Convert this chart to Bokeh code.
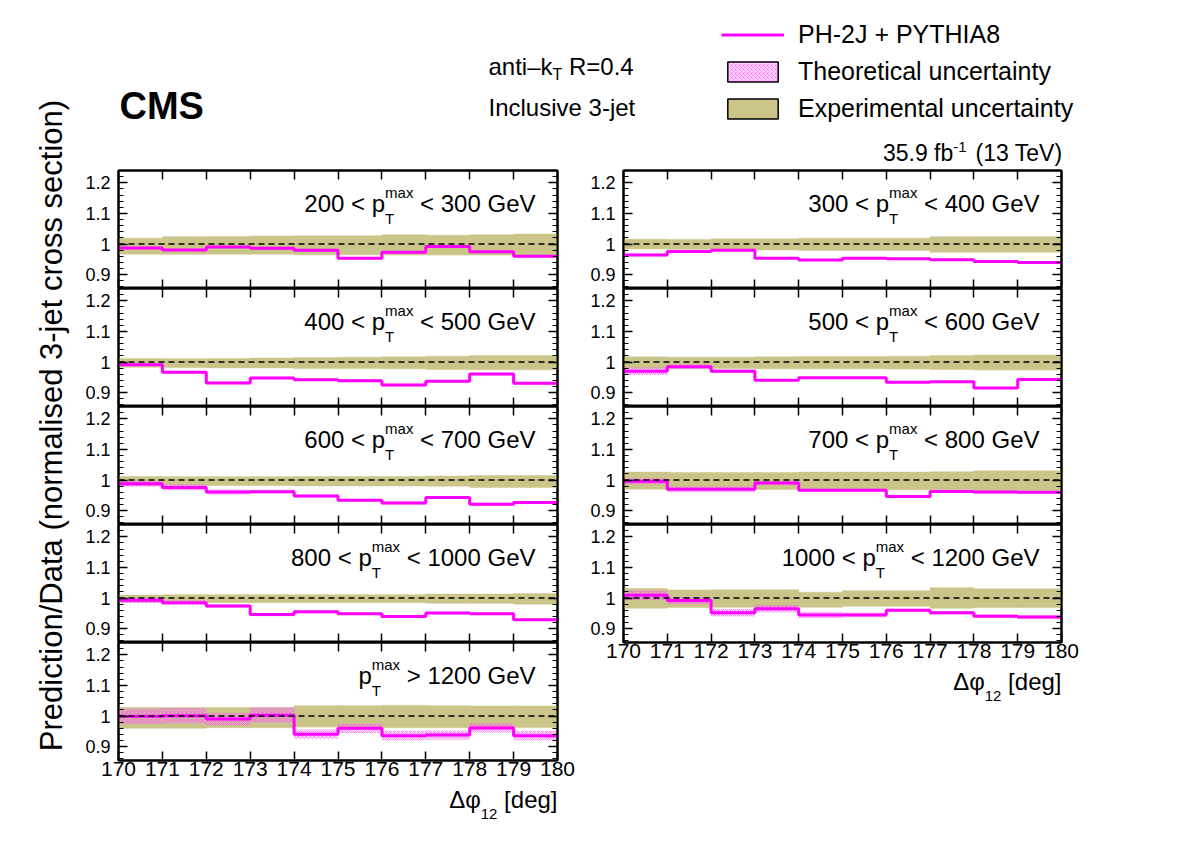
import math
from bokeh.plotting import figure
from bokeh.layouts import column, row
from bokeh.core.properties import value
from bokeh.models import (Range1d, LinearAxis, FixedTicker, PrintfTickFormatter,
                          CustomJSTickFormatter, Span, Legend, LegendItem)
from bokeh.embed import file_html
from bokeh.resources import INLINE

FONT = "Liberation Sans"
MAGENTA = "#ff00ff"
PINK = "#ff8cff"
OLIVE = "#ccc58a"

# ---------------- data ----------------
bin_edges = [170, 171, 172, 173, 174, 175, 176, 177, 178, 179, 180]
y_tick_values = [0.9, 1.0, 1.1, 1.2]

pred_200_300 = [0.987, 0.981, 0.990, 0.986, 0.980, 0.954, 0.973, 0.992, 0.975, 0.960]
theo_200_300 = [0.004, 0.004, 0.004, 0.004, 0.004, 0.004, 0.004, 0.004, 0.004, 0.004]
expup_200_300 = [0.019, 0.024, 0.025, 0.026, 0.027, 0.027, 0.030, 0.029, 0.030, 0.033]
expdn_200_300 = [0.033, 0.033, 0.033, 0.033, 0.035, 0.035, 0.036, 0.036, 0.036, 0.038]

pred_300_400 = [0.964, 0.976, 0.980, 0.954, 0.948, 0.954, 0.952, 0.949, 0.943, 0.940]
theo_300_400 = [0.005, 0.003, 0.003, 0.003, 0.003, 0.003, 0.003, 0.003, 0.003, 0.003]
expup_300_400 = [0.016, 0.015, 0.017, 0.017, 0.019, 0.019, 0.019, 0.024, 0.024, 0.024]
expdn_300_400 = [0.016, 0.017, 0.019, 0.019, 0.021, 0.021, 0.021, 0.027, 0.027, 0.027]

pred_400_500 = [0.991, 0.967, 0.932, 0.948, 0.942, 0.939, 0.925, 0.937, 0.961, 0.931]
theo_400_500 = [0.004, 0.004, 0.004, 0.004, 0.004, 0.004, 0.004, 0.004, 0.004, 0.004]
expup_400_500 = [0.012, 0.011, 0.012, 0.013, 0.015, 0.016, 0.017, 0.019, 0.021, 0.021]
expdn_400_500 = [0.017, 0.018, 0.019, 0.019, 0.021, 0.021, 0.022, 0.024, 0.025, 0.025]

pred_500_600 = [0.970, 0.985, 0.970, 0.941, 0.949, 0.949, 0.934, 0.936, 0.915, 0.943]
theo_500_600 = [0.012, 0.008, 0.006, 0.004, 0.003, 0.003, 0.003, 0.003, 0.003, 0.003]
expup_500_600 = [0.017, 0.016, 0.016, 0.017, 0.018, 0.018, 0.019, 0.021, 0.023, 0.023]
expdn_500_600 = [0.021, 0.021, 0.021, 0.022, 0.022, 0.022, 0.023, 0.024, 0.026, 0.026]

pred_600_700 = [0.988, 0.976, 0.961, 0.962, 0.948, 0.934, 0.925, 0.943, 0.921, 0.927]
theo_600_700 = [0.010, 0.010, 0.008, 0.006, 0.005, 0.005, 0.005, 0.005, 0.005, 0.005]
expup_600_700 = [0.012, 0.011, 0.011, 0.011, 0.012, 0.012, 0.012, 0.013, 0.015, 0.015]
expdn_600_700 = [0.018, 0.018, 0.018, 0.018, 0.019, 0.019, 0.019, 0.020, 0.024, 0.024]

pred_700_800 = [0.996, 0.970, 0.970, 0.990, 0.967, 0.967, 0.946, 0.963, 0.961, 0.960]
theo_700_800 = [0.010, 0.010, 0.010, 0.006, 0.005, 0.005, 0.005, 0.005, 0.005, 0.005]
expup_700_800 = [0.026, 0.025, 0.025, 0.025, 0.026, 0.026, 0.026, 0.027, 0.030, 0.030]
expdn_700_800 = [0.030, 0.031, 0.031, 0.031, 0.031, 0.032, 0.032, 0.032, 0.035, 0.035]

pred_800_1000 = [0.993, 0.985, 0.974, 0.946, 0.955, 0.949, 0.940, 0.951, 0.949, 0.929]
theo_800_1000 = [0.009, 0.008, 0.006, 0.005, 0.005, 0.004, 0.004, 0.004, 0.004, 0.004]
expup_800_1000 = [0.010, 0.011, 0.011, 0.011, 0.011, 0.011, 0.011, 0.013, 0.013, 0.015]
expdn_800_1000 = [0.014, 0.015, 0.015, 0.015, 0.015, 0.015, 0.015, 0.017, 0.017, 0.020]

pred_1000_1200 = [1.009, 0.992, 0.952, 0.965, 0.945, 0.945, 0.960, 0.952, 0.941, 0.938]
theo_1000_1200 = [0.015, 0.012, 0.012, 0.012, 0.010, 0.008, 0.006, 0.006, 0.006, 0.006]
expup_1000_1200 = [0.031, 0.026, 0.027, 0.027, 0.019, 0.024, 0.024, 0.034, 0.030, 0.030]
expdn_1000_1200 = [0.033, 0.031, 0.030, 0.030, 0.030, 0.027, 0.027, 0.033, 0.031, 0.031]

pred_1200 = [0.999, 1.001, 0.990, 1.003, 0.941, 0.960, 0.936, 0.938, 0.961, 0.936]
theo_1200 = [0.025, 0.025, 0.020, 0.025, 0.015, 0.015, 0.015, 0.015, 0.015, 0.015]
expup_1200 = [0.028, 0.028, 0.028, 0.028, 0.034, 0.034, 0.035, 0.034, 0.033, 0.033]
expdn_1200 = [0.040, 0.040, 0.038, 0.038, 0.036, 0.036, 0.038, 0.038, 0.037, 0.037]

left_panels = [
    ("200 < p", "< 300 GeV", pred_200_300, theo_200_300, expup_200_300, expdn_200_300),
    ("400 < p", "< 500 GeV", pred_400_500, theo_400_500, expup_400_500, expdn_400_500),
    ("600 < p", "< 700 GeV", pred_600_700, theo_600_700, expup_600_700, expdn_600_700),
    ("800 < p", "< 1000 GeV", pred_800_1000, theo_800_1000, expup_800_1000, expdn_800_1000),
    ("p", "> 1200 GeV", pred_1200, theo_1200, expup_1200, expdn_1200),
]
right_panels = [
    ("300 < p", "< 400 GeV", pred_300_400, theo_300_400, expup_300_400, expdn_300_400),
    ("500 < p", "< 600 GeV", pred_500_600, theo_500_600, expup_500_600, expdn_500_600),
    ("700 < p", "< 800 GeV", pred_700_800, theo_700_800, expup_700_800, expdn_700_800),
    ("1000 < p", "< 1200 GeV", pred_1000_1200, theo_1000_1200, expup_1000_1200, expdn_1000_1200),
]

# ---------------- layout helpers ----------------
Y0, Y1 = 0.855, 1.24
FRAME_H = 118
PAGE_H = 846
HEADER_H = 168
YT_W = 80
COL_W = [500, 602]
FRAME_W = [439, 438]
BORDER_L = [38, 43]
BOTTOM_B = 25
BASE_K = 0.36   # shift from wanted baseline to the drawn anchor, as a fraction of font size

ARIAL = {' ': 278, '<': 584, '>': 584, '=': 584, '.': 278, '-': 333, '(': 333, ')': 333,
         '[': 278, ']': 278, 'G': 778, 'V': 667, 'T': 611, 'R': 722, 'e': 556, 'm': 833,
         'a': 556, 'x': 500, 'p': 556, 'n': 556, 't': 278, 'i': 222, 'k': 500, 'd': 556,
         'g': 556, '\u2013': 556}


def tw(s, size):
    return sum(ARIAL.get(c, 556) for c in s) * size / 1000.0


def txt(fig, x, y, s, size, align="left", style="normal", angle=0.0, baseline="alphabetic"):
    fig.text(x=[x], y=[y], text=[s], text_font=value(FONT), text_font_size=value(f"{size}px"),
             text_align=value(align), text_baseline=value(baseline),
             text_font_style=value(style), angle=angle, text_color="black")


def blank_fig(w, h, xr, yr):
    f = figure(width=w, height=h, title=None, x_range=xr, y_range=yr,
               toolbar_location=None, output_backend="svg",
               min_border_left=0, min_border_right=0, min_border_top=0, min_border_bottom=0)
    f.xaxis.visible = False
    f.yaxis.visible = False
    f.xgrid.visible = False
    f.ygrid.visible = False
    f.outline_line_color = None
    return f


def style_axis(ax, is_x, show_labels):
    ax.axis_line_width = 2
    ax.axis_line_color = "black"
    ax.major_tick_in = 9
    ax.major_tick_out = 0
    ax.minor_tick_in = 0 if is_x else 5
    ax.minor_tick_out = 0
    ax.major_tick_line_width = 1.5
    ax.minor_tick_line_width = 1.2
    ax.major_label_text_font = FONT
    ax.major_label_text_color = "black"
    if is_x:
        ax.ticker = FixedTicker(ticks=bin_edges, minor_ticks=[])
        ax.major_label_text_font_size = "21px"
        ax.major_label_standoff = 1
    else:
        ax.ticker = FixedTicker(ticks=y_tick_values,
                                minor_ticks=[round(0.86 + 0.02 * i, 2) for i in range(20)])
        ax.formatter = PrintfTickFormatter(format="%g")
        ax.major_label_text_font_size = "18px"
        ax.major_label_standoff = 8
    if not show_labels:
        ax.formatter = CustomJSTickFormatter(code="return ''")
        ax.major_label_text_font_size = "0px"
        ax.major_label_standoff = 0


def make_panel(spec, col, is_first, is_last):
    prefix, tail, pred, theo, eup, edn = spec
    fw, bl = FRAME_W[col], BORDER_L[col]
    br = COL_W[col] - fw - bl
    bt = 2 if is_first else 0
    bb = BOTTOM_B if is_last else 0
    p = figure(width=COL_W[col], height=bt + FRAME_H + bb, title=None,
               x_range=Range1d(170, 180), y_range=Range1d(Y0, Y1),
               toolbar_location=None, output_backend="svg",
               min_border_left=bl, min_border_right=br,
               min_border_top=bt, min_border_bottom=bb)
    p.xgrid.visible = False
    p.ygrid.visible = False
    p.outline_line_color = "black"
    p.outline_line_width = 2
    p.background_fill_color = "white"
    p.border_fill_color = "white"

    lefts = bin_edges[:-1]
    rights = bin_edges[1:]
    p.quad(left=lefts, right=rights,
           bottom=[1 - d for d in edn], top=[1 + u for u in eup],
           fill_color=OLIVE, line_color=OLIVE, line_width=0.5)
    p.quad(left=lefts, right=rights,
           bottom=[v - t for v, t in zip(pred, theo)], top=[v + t for v, t in zip(pred, theo)],
           fill_color=PINK, fill_alpha=0.35, line_color=None,
           hatch_pattern="x", hatch_color=MAGENTA, hatch_alpha=0.45,
           hatch_scale=4, hatch_weight=0.8)
    p.add_layout(Span(location=1.0, dimension="width", line_color="black",
                      line_dash="6 4", line_width=1.5))
    p.step(x=bin_edges, y=list(pred) + [pred[-1]], mode="after",
           line_color=MAGENTA, line_width=3)

    style_axis(p.xaxis[0], True, is_last)
    style_axis(p.yaxis[0], False, True)
    top_ax = LinearAxis()
    right_ax = LinearAxis()
    style_axis(top_ax, True, False)
    style_axis(right_ax, False, False)
    p.add_layout(top_ax, "above")
    p.add_layout(right_ax, "right")

    def fx(px):
        return 170 + px / fw * 10.0

    def fy(py):
        return Y1 - py / FRAME_H * (Y1 - Y0)

    R = fw - 22
    xs = R - tw(tail, 24) - tw(" ", 24) - tw("max", 15)
    txt(p, fx(R), fy(42 - BASE_K * 24), tail, 24, "right")
    txt(p, fx(xs), fy(27 - BASE_K * 15), "max", 15)
    txt(p, fx(xs), fy(53 - BASE_K * 15), "T", 15)
    txt(p, fx(xs), fy(42 - BASE_K * 24), prefix, 24, "right")
    return p


def make_xlabel_strip(col, height):
    # frame of this strip is aligned with the panels of its column by the layout
    fw = FRAME_W[col]
    s = blank_fig(COL_W[col], height, Range1d(170, 180), Range1d(height, 0))

    def fx(px):
        return 180 - px / fw * 10.0

    w_t = tw(" [deg]", 24)
    w_s = tw("12", 15)
    txt(s, fx(0), 23 - BASE_K * 24, "[deg]", 24, "right")
    txt(s, fx(w_t), 34 - BASE_K * 15, "12", 15, "right")
    txt(s, fx(w_t + w_s), 23 - BASE_K * 24, "\u0394\u03c6", 24, "right")
    return s


# ---------------- header ----------------
hp = blank_fig(1182 - YT_W, HEADER_H, Range1d(YT_W, 1182), Range1d(HEADER_H, 0))

txt(hp, 119, 119 - BASE_K * 38, "CMS", 38, "left", "bold")
x0 = 488
txt(hp, x0, 75 - BASE_K * 24, "anti\u2013k", 24)
txt(hp, x0 + tw("anti\u2013k", 24), 80 - BASE_K * 16, "T", 16)
txt(hp, x0 + tw("anti\u2013k", 24) + tw("T", 16) + tw(" ", 24), 75 - BASE_K * 24, "R=0.4", 24)
txt(hp, x0, 116 - BASE_K * 24, "Inclusive 3-jet", 24)

rx = 1062
w_l_tail = tw(" (13 TeV)", 23)
w_l_sup = tw("-1", 15)
txt(hp, rx, 161 - BASE_K * 23, "(13 TeV)", 23, "right")
txt(hp, rx - w_l_tail, 152 - BASE_K * 15, "-1", 15, "right")
txt(hp, rx - w_l_tail - w_l_sup, 161 - BASE_K * 23, "35.9 fb", 23, "right")

# legend proxies (kept outside the visible header range)
r_line = hp.line(x=[-50, -40], y=[-50, -50], line_color=MAGENTA, line_width=3)
r_theo = hp.quad(left=[-50], right=[-40], top=[-50], bottom=[-40], fill_color=PINK, fill_alpha=0.35,
                 hatch_pattern="x", hatch_color=MAGENTA, hatch_alpha=0.45, hatch_scale=4,
                 hatch_weight=0.8, line_color="black", line_width=1.5)
r_exp = hp.quad(left=[-50], right=[-40], top=[-50], bottom=[-40], fill_color=OLIVE,
                line_color="black", line_width=1.5)
legend = Legend(items=[LegendItem(label="PH-2J + PYTHIA8", renderers=[r_line]),
                       LegendItem(label="Theoretical uncertainty", renderers=[r_theo]),
                       LegendItem(label="Experimental uncertainty", renderers=[r_exp])],
                location=(721 - YT_W, 45), orientation="vertical",
                glyph_width=63, glyph_height=25, label_height=25, label_standoff=14,
                spacing=8, padding=0, margin=0, border_line_color=None,
                background_fill_alpha=0, label_text_font=FONT, label_text_font_size="25px",
                label_text_color="black")
hp.add_layout(legend)

# ---------------- y title ----------------
yp = blank_fig(YT_W, PAGE_H, Range1d(0, YT_W), Range1d(PAGE_H, 0))
txt(yp, 51, 425, "Prediction/Data (normalised 3-jet cross section)", 31, "center",
    angle=math.pi / 2, baseline="middle")

# ---------------- panels ----------------
left_figs = [make_panel(s, 0, i == 0, i == len(left_panels) - 1) for i, s in enumerate(left_panels)]
right_figs = [make_panel(s, 1, i == 0, i == len(right_panels) - 1) for i, s in enumerate(right_panels)]

used_left = HEADER_H + 2 + FRAME_H * len(left_panels) + BOTTOM_B
left_figs.append(make_xlabel_strip(0, PAGE_H - used_left))
right_figs.append(make_xlabel_strip(1, 60))

layout = row(yp, column(hp, row(column(*left_figs), column(*right_figs))))

with open("out.html", "w") as f:
    f.write(file_html(layout, INLINE))
